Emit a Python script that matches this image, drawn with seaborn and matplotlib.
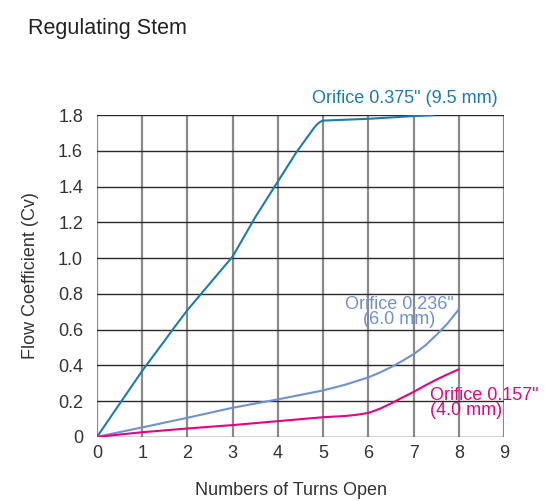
import matplotlib
matplotlib.use("Agg")
import matplotlib.pyplot as plt
import seaborn as sns
import pandas as pd

# Flow coefficient vs. number of turns for three orifice sizes
turns_375 = [0, 1, 1.5, 1.7, 2, 2.5, 3, 3.5, 4, 4.4, 4.6, 4.8, 4.85, 4.9, 4.95, 5.0, 6, 7, 7.42]
cv_375 = [0, 0.37, 0.54, 0.61, 0.71, 0.86, 1.01, 1.23, 1.43, 1.59, 1.66, 1.73, 1.745, 1.757, 1.765, 1.77, 1.78, 1.795, 1.80]

turns_236 = [0, 1, 2, 3, 4, 5, 5.5, 6, 6.25, 6.5, 6.75, 7, 7.25, 7.5, 7.75, 8]
cv_236 = [0, 0.053, 0.107, 0.163, 0.21, 0.26, 0.293, 0.333, 0.36, 0.39, 0.425, 0.463, 0.51, 0.57, 0.635, 0.714]

turns_157 = [0, 1, 2, 3, 4, 5, 5.5, 5.75, 6, 6.25, 6.5, 6.75, 7, 7.25, 7.5, 7.75, 8]
cv_157 = [0, 0.026, 0.047, 0.066, 0.088, 0.11, 0.117, 0.124, 0.134, 0.157, 0.187, 0.22, 0.252, 0.287, 0.32, 0.35, 0.378]

series_names = ["0.375", "0.236", "0.157"]
series_colors = ["#1c7cad", "#7091d0", "#e5047f"]

x_ticks = list(range(0, 10))
y_ticks = [0, 0.2, 0.4, 0.6, 0.8, 1.0, 1.2, 1.4, 1.6, 1.8]
y_tick_labels = ["0", "0.2", "0.4", "0.6", "0.8", "1.0", "1.2", "1.4", "1.6", "1.8"]

frames = []
for name, xs, ys in zip(series_names, [turns_375, turns_236, turns_157], [cv_375, cv_236, cv_157]):
    frames.append(pd.DataFrame({"turns": xs, "cv": ys, "orifice": name}))
df = pd.concat(frames, ignore_index=True)

sns.set_theme(style="white")
plt.rcParams["font.family"] = ["Liberation Sans", "DejaVu Sans"]

fig = plt.figure(figsize=(5.45, 5.01), dpi=100)
ax = fig.add_axes([0.178, 0.128, 0.747, 0.642])

# grid: vertical lines gray and heavier, horizontal lines dark and thin
for xv in x_ticks:
    ax.axvline(xv, color="#8a8a8a", lw=1.6, zorder=1)
for yv in y_ticks:
    ax.axhline(yv, color="#2a2a2a", lw=1.0, zorder=1)

sns.lineplot(data=df, x="turns", y="cv", hue="orifice", hue_order=series_names,
             palette=series_colors, lw=1.5, legend=False, ax=ax, zorder=3,
             sort=False, estimator=None)

ax.set_xlim(0, 9)
ax.set_ylim(0, 1.8)
ax.set_xticks(x_ticks)
ax.set_yticks(y_ticks)
ax.set_yticklabels(y_tick_labels)
ax.tick_params(axis="both", length=0, labelsize=13, colors="#333333")
ax.tick_params(axis="y", pad=10)
ax.tick_params(axis="x", pad=6)
for s in ax.spines.values():
    s.set_visible(False)

ax.set_xlabel("Numbers of Turns Open", fontsize=13, color="#333333")
ax.xaxis.set_label_coords(0.477, -0.14)
ax.set_ylabel("Flow Coefficient (Cv)", fontsize=13, color="#333333", labelpad=14)

ax.text(6.8, 1.845, 'Orifice 0.375" (9.5 mm)', color=series_colors[0], fontsize=13,
        ha="center", va="bottom")
ax.text(6.68, 0.70, 'Orifice 0.236"\n(6.0 mm)', color=series_colors[1], fontsize=13,
        ha="center", va="center", linespacing=0.82)
ax.text(7.37, 0.19, 'Orifice 0.157"\n(4.0 mm)', color=series_colors[2], fontsize=13,
        ha="left", va="center", linespacing=0.82)

fig.text(0.052, 0.965, "Regulating Stem", fontsize=15.5, color="#222222", ha="left", va="top")

fig.savefig("out.png", dpi=100)
